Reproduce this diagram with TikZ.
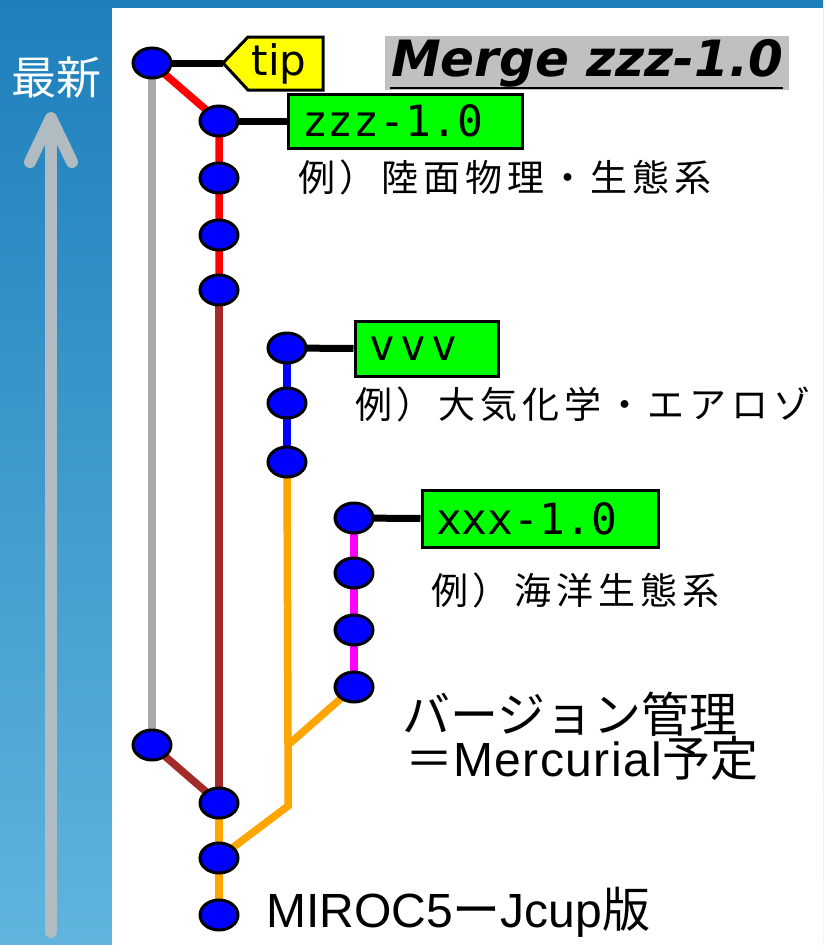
\documentclass[tikz,border=0pt]{standalone}
\usepackage{fontspec}
\setmainfont{DejaVu Sans}
\newfontfamily\jp{Noto Sans CJK JP}
\newfontfamily\jpls{Noto Sans CJK JP}[LetterSpace=13]
\newfontfamily\lat{Liberation Sans}
\newfontfamily\mono{DejaVu Sans Mono}
\newfontfamily\dvs{DejaVu Sans}
\usetikzlibrary{shapes.geometric}
\definecolor{bgtop}{RGB}{30,127,187}
\definecolor{bgbot}{RGB}{96,180,222}
\definecolor{arrowgray}{RGB}{176,188,194}
\definecolor{cblue}{RGB}{0,0,255}
\definecolor{cred}{RGB}{255,0,0}
\definecolor{cbrown}{RGB}{165,42,42}
\definecolor{corange}{RGB}{255,165,0}
\definecolor{cpink}{RGB}{255,0,255}
\definecolor{cgray}{RGB}{170,170,170}
\definecolor{cgreen}{RGB}{0,255,0}
\definecolor{cyellow}{RGB}{255,255,0}
\definecolor{mergegray}{RGB}{192,192,192}
\pgfdeclarelayer{bg}
\pgfdeclarelayer{edges}
\pgfsetlayers{bg,edges,main}
\tikzset{
  commit/.style={ellipse, minimum width=38, minimum height=30, inner sep=0, fill=cblue, draw=black, line width=3},
  branch/.style={line width=7.5},
  tagline/.style={line width=7, draw=black},
  tagbox/.style={rectangle, fill=cgreen, draw=black, line width=3, inner xsep=14, inner ysep=0, align=left, font=\mono\fontsize{43}{43}\selectfont},
  jtext/.style={anchor=west, inner sep=0, font=\jpls\fontsize{37}{42}\selectfont},
  jbig/.style={anchor=west, inner sep=0, font=\jp\fontsize{48}{52}\selectfont}
}
\begin{document}
\begin{tikzpicture}[x=1pt,y=-1pt]
\useasboundingbox (0,0) rectangle (823,945);
\begin{pgfonlayer}{bg}
  \shade[top color=bgtop, bottom color=bgbot] (0,0) rectangle (823,945);
  \fill[white] (112,8) rectangle (823,945);
  \draw[arrowgray, line width=12, line cap=round] (51,932) -- (51,120);
  \draw[arrowgray, line width=12, line cap=round, line join=round] (30,162) -- (51,118) -- (72,162);
\end{pgfonlayer}
\node[inner sep=0, text=white, font=\jp\fontsize{45}{45}\selectfont] (newest) at (57,78) {最新};

% commits
\node[commit] (n0) at (152,63) {};
\node[commit] (n1) at (219,121) {};
\node[commit] (n2) at (219,178) {};
\node[commit] (n3) at (219,235) {};
\node[commit] (n4) at (219,290) {};
\node[commit] (v1) at (287,348) {};
\node[commit] (v2) at (287,403) {};
\node[commit] (v3) at (287,462) {};
\node[commit] (x1) at (354,518) {};
\node[commit] (x2) at (354,573) {};
\node[commit] (x3) at (354,630) {};
\node[commit] (x4) at (354,687) {};
\node[commit] (g1) at (152,745) {};
\node[commit] (m1) at (219,803) {};
\node[commit] (b2) at (219,858) {};
\node[commit] (b3) at (219,915) {};
\coordinate (j1) at (288,745);
\coordinate (j2) at (288,806);

% labels
\node[fill=mergegray, anchor=west, inner xsep=6, inner ysep=0, minimum height=54, font=\dvs\bfseries\itshape\fontsize{50}{50}\selectfont] (merge) at (385,63) {Merge zzz-1.0};
\draw[line width=2.5] (390,88) -- (783,88);
\node[tagbox, minimum height=54, text width=206] (zzz) at (405,121) {zzz-1.0};
\node[tagbox, minimum height=55, text width=115] (vvv) at (426.5,348.5) {\addfontfeature{LetterSpace=12}vvv};
\node[tagbox, minimum height=57, text width=208] (xxx) at (540,518.5) {xxx-1.0};
\draw[fill=cyellow, line width=3, line join=miter] (223,63) -- (248,37) -- (323,37) -- (323,90) -- (248,90) -- cycle;
\coordinate (tipw) at (223,63);
\node[inner sep=0, font=\dvs\fontsize{42}{42}\selectfont] (tip) at (279,64) {tip};

\node[jtext] (t1) at (298,177) {例）陸面物理・生態系};
\node[jtext] (t2) at (355,404) {例）大気化学・エアロゾ};
\node[jtext] (t3) at (431,590) {例）海洋生態系};
\node[jbig] (t4) at (402,714) {バージョン管理};
\node[jbig] (t5) at (405,758) {＝{\lat\addfontfeature{LetterSpace=3}Mercurial}予定};
\node[jbig] (t6) at (266,912) {{\lat MIROC5}ー{\lat Jcup}版};

\begin{pgfonlayer}{edges}
  \draw[branch, cgray] (n0.center) -- (g1.center);
  \draw[branch, cred] (n0.center) -- (n1.center) -- (n2.center) -- (n3.center) -- (n4.center);
  \draw[branch, cbrown] (n4.center) -- (m1.center);
  \draw[branch, cbrown] (g1.center) -- (m1.center);
  \draw[branch, cblue] (v1.center) -- (v2.center) -- (v3.center);
  \draw[branch, corange] (v3.center) -- (j1) -- (j2) -- (b2.center);
  \draw[branch, corange] (x4.center) -- (j1);
  \draw[branch, corange] (m1.center) -- (b2.center) -- (b3.center);
  \draw[branch, cpink] (x1.center) -- (x2.center) -- (x3.center) -- (x4.center);
  \draw[tagline] (n0.center) -- (tipw);
  \draw[tagline] (n1.center) -- (zzz.west);
  \draw[tagline] (v1.center) -- (vvv.west);
  \draw[tagline] (x1.center) -- (xxx.west);
\end{pgfonlayer}
\end{tikzpicture}
\end{document}
